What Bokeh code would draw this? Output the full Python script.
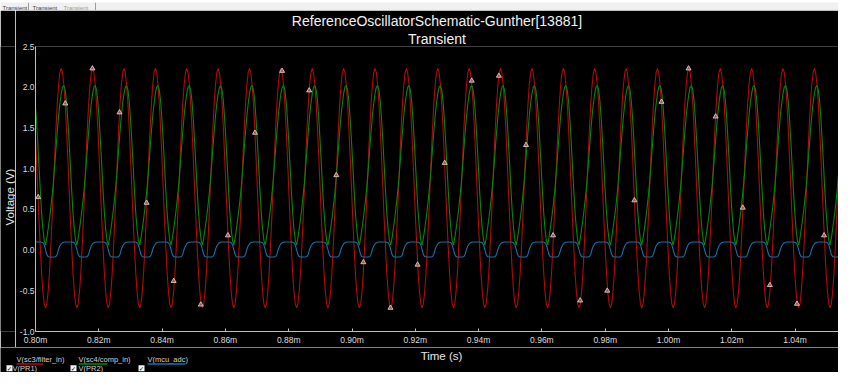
import math
from bokeh.plotting import figure
from bokeh.models import Range1d, FixedTicker, PrintfTickFormatter, Title
from bokeh.layouts import column, row
from bokeh.core.properties import value
from bokeh.embed import file_html
from bokeh.resources import INLINE

# ---------------- data ----------------
X_TICKS = [0.80, 0.82, 0.84, 0.86, 0.88, 0.90, 0.92, 0.94, 0.96, 0.98, 1.00, 1.02, 1.04, 1.06]
Y_TICKS = [-1.0, -0.5, 0.0, 0.5, 1.0, 1.5, 2.0, 2.5]

PERIOD_MS = 0.009915          # one oscillation (ms)
FIRST_RED_PEAK_MS = 0.79821   # a V(PR1) peak just left of the view
N_CYCLES = 27

# one period of each trace, 24 samples, starting at a V(PR1) peak (volts)
V_PR1_CYCLE = [2.23, 2.18, 2.03, 1.80, 1.50, 1.14, 0.76, 0.38, 0.03, -0.28, -0.51, -0.66,
               -0.71, -0.66, -0.51, -0.28, 0.03, 0.38, 0.76, 1.14, 1.50, 1.80, 2.03, 2.18]
V_PR2_CYCLE = [1.92, 2.00, 2.02, 1.97, 1.83, 1.61, 1.34, 1.04, 0.73, 0.46, 0.26, 0.12,
               0.06, 0.15, 0.26, 0.38, 0.51, 0.66, 0.83, 1.03, 1.25, 1.46, 1.65, 1.80]
V_ADC_CYCLE = [0.075, 0.09, 0.097, 0.10, 0.10, 0.10, 0.10, 0.10, 0.10, 0.097, 0.09, 0.065,
               0.005, -0.055, -0.08, -0.085, -0.085, -0.085, -0.085, -0.085, -0.08, -0.05, 0.01, 0.05]

# triangle data-point markers on V(PR1)
MARKER_T_MS = [0.80085, 0.80941, 0.81797, 0.82654, 0.83510, 0.84366, 0.85222, 0.86078,
               0.86935, 0.87791, 0.88647, 0.89503, 0.90359, 0.91216, 0.92072, 0.92928,
               0.93784, 0.94640, 0.95497, 0.96353, 0.97209, 0.98065, 0.98921, 0.99778,
               1.00634, 1.01490, 1.02346, 1.03202, 1.04058, 1.04915, 1.05771]
MARKER_V = [0.65, 1.80, 2.23, 1.69, 0.58, -0.38, -0.67, 0.18, 1.44, 2.20, 1.96, 0.92,
            -0.15, -0.71, -0.18, 1.07, 2.08, 2.14, 1.29, 0.18, -0.62, -0.50, 0.61, 1.82,
            2.23, 1.64, 0.52, -0.43, -0.66, 0.18, 1.50]

TAB_TEXTS = ["Transient", "Transient", "Transient"]
TITLE_1 = "ReferenceOscillatorSchematic-Gunther[13881]"
TITLE_2 = "Transient"
X_LABEL = "Time (s)"
Y_LABEL = "Voltage (V)"
LEGEND_TOP = ["V(sc3/filter_in)", "V(sc4/comp_in)", "V(mcu_adc)"]
LEGEND_BOTTOM = ["V(PR1)", "V(PR2)", ""]

RED = "#ad0c0c"
GREEN = "#0b840b"
BLUE = "#1a6fa3"
COLORS = [RED, GREEN, BLUE]

FONT = "Liberation Sans"
AX = "#bdbdbd"
TXT = "#dcdcdc"
BG = "#000000"


def tile(cycle):
    n = len(cycle)
    ts, vs = [], []
    for c in range(N_CYCLES):
        for j in range(n):
            ts.append(FIRST_RED_PEAK_MS + (c + j / n) * PERIOD_MS)
            vs.append(cycle[j])
    return ts, vs


def pixel_fig(w, h, top, bg=BG):
    f = figure(width=w, height=h, x_range=Range1d(0, w), y_range=Range1d(top + h, top),
               output_backend="svg", toolbar_location=None,
               min_border_left=0, min_border_right=0, min_border_top=0, min_border_bottom=0,
               background_fill_color=bg, border_fill_color=bg,
               outline_line_color=None, x_axis_type=None, y_axis_type=None)
    f.xgrid.visible = False
    f.ygrid.visible = False
    return f


W = 838
TAB_H = 10
H1 = 337
H2 = 25
STRIP_W = 15

# ---------------- tab strip on top ----------------
tb = pixel_fig(W, TAB_H, 0, bg="#f0f0f0")
tb.text(x=[2, 32, 63], y=[5, 5, 5], text=TAB_TEXTS, text_font=value(FONT),
        text_font_size=value("6px"), text_color=["#444444", "#444444", "#9a9a9a"],
        text_align="left", text_baseline="middle")
tb.segment(x0=[28, 95], y0=[0, 0], x1=[28, 95], y1=[TAB_H, TAB_H], line_color="#9a9a9a", line_width=1)

# ---------------- left strip: y-axis title ----------------
s = pixel_fig(STRIP_W, H1, TAB_H)
s.text(x=[9], y=[188], text=[Y_LABEL], text_font=value(FONT), text_font_size=value("11.5px"),
       text_color="#e6e6e6", text_align="center", text_baseline="middle", angle=math.pi / 2)

# ---------------- main plot ----------------
p = figure(width=W - STRIP_W, height=H1,
           x_range=Range1d(0.80, 1.05371), y_range=Range1d(-1.0, 2.5),
           output_backend="svg", toolbar_location=None,
           min_border_left=35 - STRIP_W, min_border_right=0, min_border_top=42 - TAB_H,
           min_border_bottom=14,
           background_fill_color=BG, border_fill_color=BG,
           outline_line_color=None)
p.xgrid.visible = False
p.ygrid.visible = False

p.add_layout(Title(text=TITLE_2, align="center", text_font=FONT, text_font_size="14px",
                   text_font_style="normal", text_color="#f2f2f2", standoff=0,
                   text_line_height=1.1), "above")
p.add_layout(Title(text=TITLE_1, align="center", text_font=FONT, text_font_size="14px",
                   text_font_style="normal", text_color="#f2f2f2", standoff=0,
                   text_line_height=1.1), "above")

for cyc, col in zip([V_PR1_CYCLE, V_PR2_CYCLE, V_ADC_CYCLE], COLORS):
    t, v = tile(cyc)
    p.line(t, v, line_color=col, line_width=1.1)

p.scatter(MARKER_T_MS, MARKER_V, marker="triangle", size=5,
          fill_color="#a85050", line_color="#eadada", line_width=0.8)

for ax in (p.xaxis[0], p.yaxis[0]):
    ax.axis_line_color = AX
    ax.major_tick_line_color = AX
    ax.minor_tick_line_color = None
    ax.major_label_text_color = TXT
    ax.major_label_text_font = FONT
    ax.major_label_text_font_size = "8.5px"

p.xaxis.ticker = FixedTicker(ticks=X_TICKS)
p.xaxis.formatter = PrintfTickFormatter(format="%.2fm")
p.xaxis.major_tick_in = 3
p.xaxis.major_tick_out = 0
p.xaxis.major_label_standoff = 3

p.yaxis.ticker = FixedTicker(ticks=Y_TICKS)
p.yaxis.formatter = PrintfTickFormatter(format="%.1f")
p.yaxis.major_tick_in = 0
p.yaxis.major_tick_out = 0
p.yaxis.major_label_standoff = 1

# ---------------- strip below: axis title and legend (pixel space) ----------------
q = pixel_fig(W, H2, TAB_H + H1)

q.text(x=[441], y=[355.5], text=[X_LABEL], text_font=value(FONT), text_font_size=value("11.5px"),
       text_color="#e6e6e6", text_align="center", text_baseline="middle")

top_x = [16, 78, 147]
line_end = [43, 107, 185]
box_x = [6, 70, 138]
bot_x = [12, 78, 146]
ROW1, ULINE, ROW2 = 358.5, 363.5, 367.6

q.text(x=top_x, y=[ROW1] * 3, text=LEGEND_TOP, text_font=value(FONT),
       text_font_size=value("7.5px"), text_color="#d0d0d0", text_align="left", text_baseline="middle")
q.segment(x0=top_x, y0=[ULINE] * 3, x1=line_end, y1=[ULINE] * 3, line_color=COLORS, line_width=1.5)
q.quad(left=box_x, right=[b + 6 for b in box_x], top=[364.8] * 3, bottom=[370.8] * 3,
       fill_color="#f4f4f4", line_color=None)
q.text(x=[b + 3 for b in box_x], y=[368.0] * 3, text=["\u2713"] * 3, text_font=value("DejaVu Sans"),
       text_font_size=value("6.5px"), text_font_style="bold", text_color="#000000",
       text_align="center", text_baseline="middle")
q.text(x=bot_x[:2], y=[ROW2] * 2, text=LEGEND_BOTTOM[:2], text_font=value(FONT),
       text_font_size=value("7.5px"), text_color="#d0d0d0", text_align="left", text_baseline="middle")

layout = column(tb, row(s, p, spacing=0), q, spacing=0)
open("out.html", "w").write(file_html(layout, INLINE))
